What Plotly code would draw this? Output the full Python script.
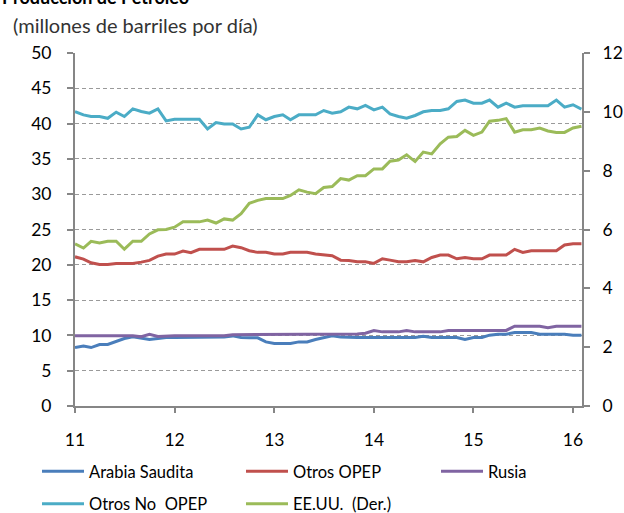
import pandas as pd
import plotly.graph_objects as go

months = pd.date_range("2011-01-01", periods=62, freq="MS")

arabia_saudita = [8.28, 8.51, 8.28, 8.71, 8.71, 9.18, 9.56, 9.79, 9.65, 9.42,
                  9.56, 9.70, 9.70, 9.70, 9.70, 9.79, 9.79, 9.79, 9.79, 9.93,
                  9.70, 9.65, 9.65, 9.08, 8.85, 8.85, 8.85, 9.08, 9.08, 9.42,
                  9.70, 9.95, 9.79, 9.70, 9.70, 9.70, 9.70, 9.70, 9.70, 9.70,
                  9.70, 9.70, 9.89, 9.70, 9.70, 9.70, 9.70, 9.42, 9.70, 9.70,
                  10.03, 10.17, 10.17, 10.41, 10.41, 10.41, 10.17, 10.17, 10.17, 10.17,
                  10.03, 10.03]

otros_opep = [21.13, 20.80, 20.28, 20.04, 20.04, 20.20, 20.20, 20.20, 20.38, 20.62,
              21.23, 21.52, 21.52, 21.95, 21.71, 22.19, 22.19, 22.19, 22.19, 22.66,
              22.42, 21.99, 21.76, 21.76, 21.52, 21.52, 21.76, 21.76, 21.76, 21.52,
              21.35, 21.28, 20.66, 20.62, 20.42, 20.42, 20.20, 20.85, 20.66, 20.42,
              20.42, 20.62, 20.42, 21.04, 21.38, 21.38, 20.85, 21.04, 20.85, 20.85,
              21.38, 21.38, 21.38, 22.19, 21.76, 21.99, 21.99, 21.99, 21.99, 22.80,
              22.99, 22.99]

rusia = [9.95, 9.95, 9.95, 9.95, 9.95, 9.95, 9.95, 9.95, 9.80, 10.15,
         9.85, 9.95, 9.95, 9.95, 9.95, 9.95, 9.95, 9.95, 9.95, 10.10,
         10.10, 10.10, 10.10, 10.10, 10.10, 10.10, 10.10, 10.10, 10.10, 10.10,
         10.10, 10.10, 10.10, 10.10, 10.20, 10.30, 10.70, 10.50, 10.50, 10.50,
         10.70, 10.50, 10.50, 10.50, 10.50, 10.70, 10.70, 10.70, 10.70, 10.70,
         10.70, 10.70, 10.70, 11.30, 11.30, 11.30, 11.30, 11.10, 11.30, 11.30,
         11.30, 11.30]

otros_no_opep = [41.71, 41.24, 41.00, 41.00, 40.75, 41.62, 41.00, 42.09, 41.71, 41.48,
                 42.09, 40.38, 40.62, 40.62, 40.62, 40.62, 39.24, 40.15, 39.95, 39.95,
                 39.24, 39.48, 41.24, 40.55, 41.00, 41.24, 40.55, 41.24, 41.24, 41.24,
                 41.85, 41.48, 41.67, 42.33, 42.09, 42.57, 41.95, 42.33, 41.38, 41.00,
                 40.76, 41.15, 41.67, 41.85, 41.85, 42.09, 43.14, 43.33, 42.90, 42.90,
                 43.33, 42.33, 42.90, 42.33, 42.52, 42.52, 42.52, 42.52, 43.33, 42.33,
                 42.67, 42.05]

eeuu = [5.51, 5.37, 5.60, 5.54, 5.60, 5.60, 5.33, 5.60, 5.60, 5.85,
        5.99, 6.00, 6.08, 6.26, 6.26, 6.26, 6.32, 6.22, 6.36, 6.32,
        6.54, 6.89, 6.99, 7.05, 7.05, 7.05, 7.16, 7.35, 7.27, 7.22,
        7.43, 7.46, 7.73, 7.68, 7.83, 7.83, 8.06, 8.06, 8.32, 8.36,
        8.54, 8.31, 8.63, 8.57, 8.91, 9.14, 9.16, 9.37, 9.20, 9.31,
        9.68, 9.71, 9.77, 9.31, 9.39, 9.39, 9.45, 9.35, 9.30, 9.30,
        9.45, 9.51]

year_ticks = pd.date_range("2011-01-01", periods=6, freq="YS")
year_labels = ["11", "12", "13", "14", "15", "16"]

FONT = "Lato"
AXIS_COLOR = "#868686"
W, H = 624, 513

fig = go.Figure()
series = [
    ("Arabia Saudita", arabia_saudita, "#4A7EBB", "y", "legend"),
    ("Otros OPEP", otros_opep, "#C0504D", "y", "legend2"),
    ("Rusia", rusia, "#8064A2", "y", "legend3"),
    ("Otros No  OPEP", otros_no_opep, "#4BACC6", "y", "legend"),
    ("EE.UU.  (Der.)", eeuu, "#9BBB59", "y2", "legend2"),
]
for name, vals, color, ax, lg in series:
    fig.add_trace(go.Scatter(x=months, y=vals, name=name, mode="lines",
                             line=dict(color=color, width=3), yaxis=ax,
                             legend=lg, legendgroup=name))

legend_common = dict(orientation="v", xref="container", yref="container",
                     xanchor="left", yanchor="top", y=(H - 454) / H,
                     font=dict(size=16.5, family=FONT), itemwidth=42,
                     tracegroupgap=8, bgcolor="rgba(0,0,0,0)", borderwidth=0)

fig.update_layout(
    width=W, height=H,
    margin=dict(l=75, r=42, t=53, b=107, autoexpand=False),
    paper_bgcolor="white", plot_bgcolor="white",
    font=dict(family=FONT, size=17.5, color="#000000"),
    showlegend=True,
    legend=dict(legend_common, x=37 / W),
    legend2=dict(legend_common, x=241 / W),
    legend3=dict(legend_common, x=436 / W),
    xaxis=dict(range=["2011-01-01", "2016-02-03"], tickvals=year_ticks, ticktext=year_labels,
               showgrid=False, showline=True, linecolor=AXIS_COLOR, linewidth=2,
               ticks="outside", ticklen=5, tickcolor=AXIS_COLOR, tickwidth=1.5,
               ticklabelstandoff=12, zeroline=False),
    yaxis=dict(range=[0, 50], dtick=5, showgrid=True, gridcolor="#9a9a9a", gridwidth=1.3,
               griddash="4px,3px", showline=True, linecolor=AXIS_COLOR, linewidth=2,
               ticks="outside", ticklen=6, tickcolor=AXIS_COLOR, tickwidth=1.5,
               ticklabelstandoff=12, zeroline=False),
    yaxis2=dict(range=[0, 12], dtick=2, overlaying="y", side="right", showgrid=False,
                showline=True, linecolor=AXIS_COLOR, linewidth=2,
                ticks="outside", ticklen=6, tickcolor=AXIS_COLOR, tickwidth=1.5,
                ticklabelstandoff=9, zeroline=False),
)

fig.add_annotation(text="<b>Producción de Petróleo</b>", xref="paper", yref="paper",
                   x=-0.148, y=1.123, xanchor="left", yanchor="bottom", showarrow=False,
                   font=dict(size=18, family=FONT))
fig.add_annotation(text="(millones de barriles por día)", xref="paper", yref="paper",
                   x=-0.126, y=1.079, xanchor="left", yanchor="middle", showarrow=False,
                   font=dict(size=20, family=FONT, color="#333333"))

fig.write_html(
    "out.html",
    config={"displayModeBar": False},
    post_script="document.body.style.margin='0';document.body.style.overflow='hidden';",
)
